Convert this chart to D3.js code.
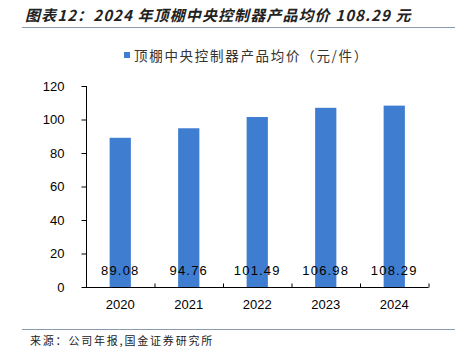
<!DOCTYPE html>
<html><head><meta charset="utf-8">
<script src="https://cdn.jsdelivr.net/npm/d3@7"></script>
<style>body{margin:0;background:#fff}svg{display:block}</style>
</head><body>
<script>
const years = ["2020","2021","2022","2023","2024"];
const prices = [89.08, 94.76, 101.49, 106.98, 108.29];
const yTicks = [0,20,40,60,80,100,120];
const titleText = "图表12：2024 年顶棚中央控制器产品均价 108.29 元";
const legendText = "顶棚中央控制器产品均价（元/件）";
const sourceText = "来源：公司年报,国金证券研究所";

const W=459,H=351;
const svg=d3.select("body").append("svg").attr("width",W).attr("height",H);
const cjk="'Noto Sans CJK SC','Noto Sans',sans-serif";
const latin="'Liberation Sans',Arial,sans-serif";
const barColor="#3f7dd0";

svg.append("text").attr("x",25).attr("y",21).attr("font-family",cjk)
  .attr("font-size",15).attr("font-weight","bold").attr("font-style","italic")
  .attr("letter-spacing",1.1).attr("fill","#222").text(titleText);
svg.append("line").attr("x1",22).attr("x2",455).attr("y1",27.5).attr("y2",27.5)
  .attr("stroke","#8a9bb0").attr("stroke-width",1);

// legend
svg.append("rect").attr("x",124).attr("y",52).attr("width",6).attr("height",6).attr("fill",barColor);
svg.append("text").attr("x",134).attr("y",60.5).attr("font-family",cjk).attr("font-size",13.5)
  .attr("letter-spacing",1.7).attr("fill","#333").text(legendText);

const x=d3.scaleBand().domain(years).range([86,428.5]).paddingInner(0.69).paddingOuter(0.345);
const xb=d3.scaleBand().domain(years).range([86,428.5]);
const y=d3.scaleLinear().domain([0,120]).range([287,86]);

const g=svg.append("g");
g.selectAll("rect.bar").data(prices).join("rect").attr("class","bar")
  .attr("x",(d,i)=>x(years[i])).attr("width",x.bandwidth())
  .attr("y",d=>y(d)).attr("height",d=>y(0)-y(d)).attr("fill",barColor);

// y axis
const ya=svg.append("g").attr("transform","translate(86.5,0)")
  .call(d3.axisLeft(y).tickValues(yTicks).tickSize(5).tickPadding(17));
ya.select(".domain").attr("stroke","#000").attr("d","M0,"+y(120)+"V"+(y(0)+0.5));
ya.selectAll(".tick line").attr("stroke","#000");
ya.selectAll("text").attr("font-family",latin).attr("font-size",13).attr("fill","#000");

// x axis
const xa=svg.append("g").attr("transform","translate(0,287.5)")
  .call(d3.axisBottom(xb).tickSize(0).tickPadding(12));
xa.select(".domain").attr("stroke","#000").attr("d","M86,0H428.5");
xa.selectAll("text").attr("font-family",latin).attr("font-size",13).attr("fill","#000");
// boundary ticks (inward)
xa.selectAll("line.bt").data(years).join("line").attr("class","bt")
  .attr("x1",d=>xb(d)+xb.step()+0.5).attr("x2",d=>xb(d)+xb.step()+0.5)
  .attr("y1",0).attr("y2",-4).attr("stroke","#000");

// value labels
g.selectAll("text.val").data(prices).join("text").attr("class","val")
  .attr("x",(d,i)=>xb(years[i])+xb.step()/2).attr("y",275)
  .attr("text-anchor","middle").attr("font-family",latin).attr("font-size",13)
  .attr("letter-spacing",1.2).attr("fill","#000").text(d=>d.toFixed(2));

svg.append("line").attr("x1",22).attr("x2",455).attr("y1",329.5).attr("y2",329.5)
  .attr("stroke","#8a9bb0").attr("stroke-width",1);
svg.append("text").attr("x",30).attr("y",345).attr("font-family",cjk).attr("font-size",11)
  .attr("letter-spacing",1.8).attr("fill","#222").text(sourceText);
</script>
</body></html>
